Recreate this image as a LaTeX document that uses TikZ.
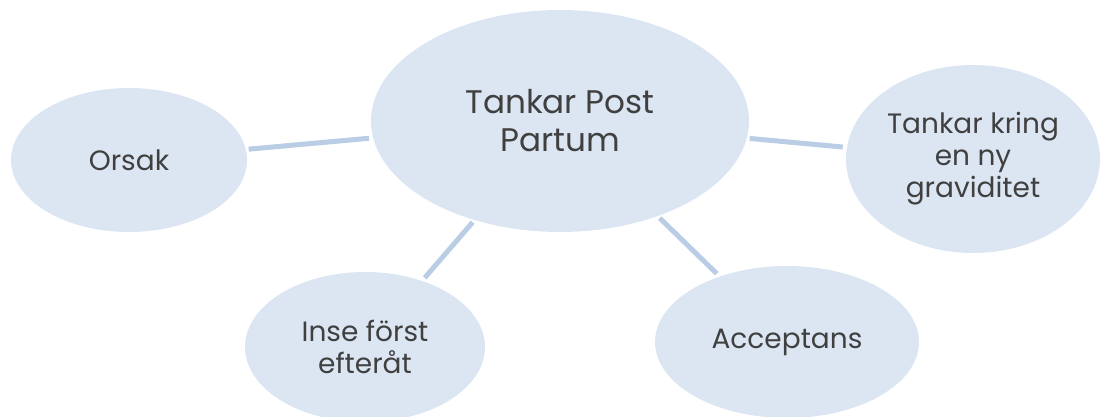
\documentclass[tikz,border=0pt]{standalone}
\usepackage{fontspec}
\setmainfont{Poppins}
\usetikzlibrary{shapes.geometric}
\definecolor{bubblefill}{HTML}{DCE6F2}
\definecolor{linkblue}{HTML}{B9CDE5}
\definecolor{textgrey}{HTML}{404040}

\begin{document}
\begin{tikzpicture}[%
  x=0.75pt, y=-0.75pt,
  bubble/.style={ellipse, fill=bubblefill, inner sep=0pt, text=textgrey,
    align=center, font=\fontsize{21}{24}\selectfont},
  link/.style={draw=linkblue, line width=3.75pt, shorten <=2pt, shorten >=3pt},
]

  \useasboundingbox (0,0) rectangle (1107,417);

  % bubbles
  \node[bubble, minimum width=283.5pt, minimum height=166.5pt,
    font=\fontsize{24.5}{28.5}\selectfont] (tankar) at (560,121) {Tankar Post\\Partum};
  \node[bubble, minimum width=177pt, minimum height=108pt] (orsak) at (129,160) {Orsak};
  \node[bubble, minimum width=190.5pt, minimum height=141pt] (gravid) at (973,159) {Tankar kring\\en ny\\graviditet};
  \node[bubble, minimum width=180pt, minimum height=112.5pt] (inse) at (365,347) {Inse först\\efteråt};
  \node[bubble, minimum width=198pt, minimum height=114pt] (accept) at (787,342) {Acceptans};

  % links
  \draw[link] (orsak) -- (tankar);
  \draw[link] (tankar) -- (gravid);
  \draw[link] (tankar) -- (inse);
  \draw[link] (tankar) -- (accept);

\end{tikzpicture}
\end{document}
